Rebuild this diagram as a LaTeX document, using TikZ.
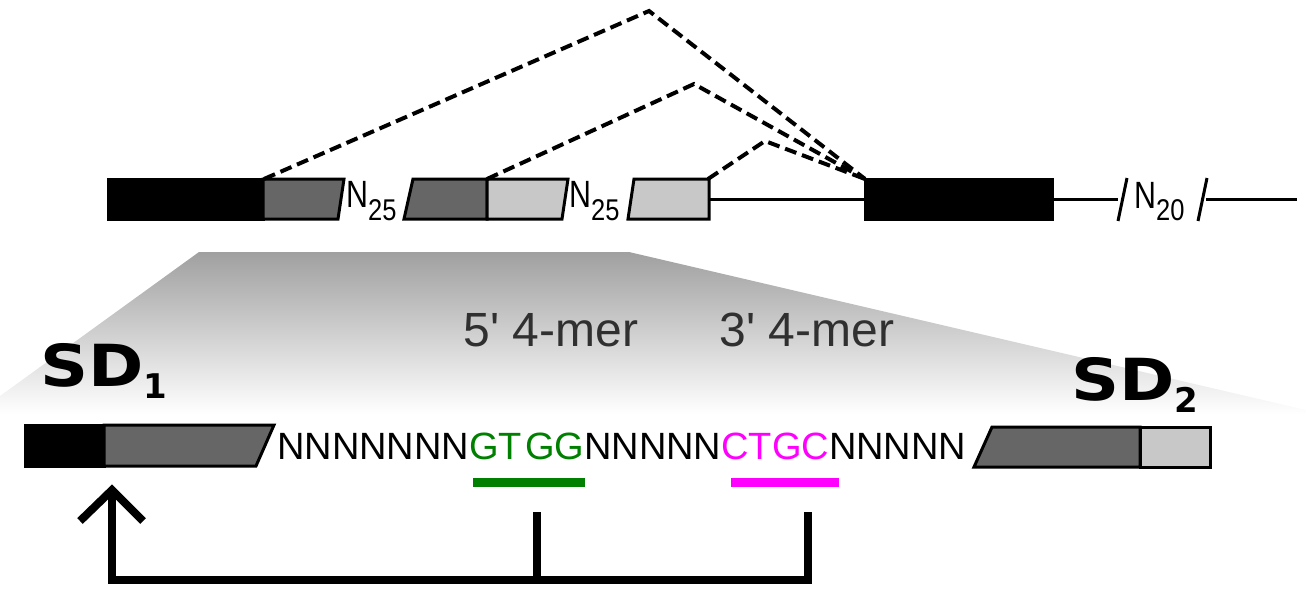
\documentclass[tikz,border=0pt]{standalone}
\usepackage{fontspec}
\setmainfont{Liberation Sans}
\newfontfamily\sdfont{DejaVu Sans}
\usetikzlibrary{arrows.meta}
\definecolor{dgray}{HTML}{666666}
\definecolor{lgray}{HTML}{C8C8C8}
\definecolor{seqgreen}{HTML}{008000}
\definecolor{seqmag}{HTML}{FF00FF}
\definecolor{labgray}{HTML}{303030}
\definecolor{shadetop}{HTML}{A0A0A0}
\begin{document}
\begin{tikzpicture}[x=1pt,y=-1pt,
  box/.style={draw=black,line width=3pt,line join=miter},
  exon/.style={box,fill=black},
  darkbox/.style={box,fill=dgray},
  lightbox/.style={box,fill=lgray},
  intron/.style={line width=3pt},
  slashline/.style={line width=3pt},
  splice/.style={line width=4pt,dash pattern=on 12pt off 6pt},
  bracket/.style={line width=8pt},
  uline/.style={line width=9pt},
  toptext/.style={anchor=base west,inner sep=0pt,font=\fontsize{38}{38}\selectfont},
  seqtext/.style={anchor=base west,inner sep=0pt,font=\fontsize{38}{38}\selectfont},
  merlabel/.style={anchor=base,inner sep=0pt,text=labgray,font=\fontsize{48}{48}\selectfont},
  sdlabel/.style={anchor=base west,inner sep=0pt,font=\sdfont\bfseries\fontsize{58}{58}\selectfont}
]
\useasboundingbox (0,0) rectangle (1306,589);
% zoom shading
\shade[top color=shadetop,bottom color=white] (199,252) -- (629,252) -- (1306,410) -- (1306,414) -- (0,414) -- (0,396) -- cycle;

% ---------- top row ----------
\coordinate (i1a) at (709,199); \coordinate (i1b) at (865,199);
\coordinate (i2a) at (1052,199); \coordinate (i2b) at (1118,199);
\coordinate (i3a) at (1206,199); \coordinate (i3b) at (1297,199);
\draw[intron] (i1a) -- (i1b);
\draw[intron] (i2a) -- (i2b);
\draw[intron] (i3a) -- (i3b);
\draw[exon] (108,179) rectangle (263,219);
\draw[darkbox] (263,179) -- (344,179) -- (338,219) -- (263,219) -- cycle;
\node[toptext] (n25a) at (346,207) {\scalebox{0.8}[1]{N}\raisebox{-13pt}{\fontsize{30}{30}\selectfont\scalebox{0.85}[1]{25}}};
\draw[darkbox] (404,219) -- (413,179) -- (487,179) -- (487,219) -- cycle;
\draw[lightbox] (487,179) -- (568,179) -- (562,219) -- (487,219) -- cycle;
\node[toptext] (n25b) at (569,207) {\scalebox{0.8}[1]{N}\raisebox{-13pt}{\fontsize{30}{30}\selectfont\scalebox{0.85}[1]{25}}};
\draw[lightbox] (628,219) -- (634,179) -- (709,179) -- (709,219) -- cycle;
\draw[exon] (865,179) rectangle (1052,219);
\draw[slashline] (1118,221) -- (1127,178);
\node[toptext] (n20) at (1134,208) {\scalebox{0.8}[1]{N}\raisebox{-12pt}{\fontsize{30}{30}\selectfont\scalebox{0.85}[1]{20}}};
\draw[slashline] (1198,221) -- (1207,178);

% splicing events
\coordinate (d1) at (264,179); \coordinate (p1) at (649,11);
\coordinate (d2) at (487,179); \coordinate (p2) at (694,84);
\coordinate (d3) at (708,179); \coordinate (p3) at (765,141);
\coordinate (acc) at (865,179);
\draw[splice] (d1) -- (p1) -- (acc);
\draw[splice] (d2) -- (p2) -- (acc);
\draw[splice] (d3) -- (p3) -- (acc);

% ---------- labels ----------
\node[merlabel] (m5) at (551,346) {5\textquotesingle{} 4-mer};
\node[merlabel] (m3) at (807,346) {3\textquotesingle{} 4-mer};
\node[sdlabel] (sd1) at (40,386) {\scalebox{1.15}[1]{SD}\raisebox{-12pt}{\fontsize{34}{34}\selectfont 1}};
\node[sdlabel] (sd2) at (1071,400) {\scalebox{1.15}[1]{SD}\raisebox{-12pt}{\fontsize{34}{34}\selectfont 2}};

% ---------- bottom row ----------
\draw[exon] (25,425) rectangle (104,466);
\draw[darkbox] (104,425) -- (274,425) -- (256,466) -- (104,466) -- cycle;
\node[seqtext] (seq) at (277,459) {NNNNNNN\textcolor{seqgreen}{GT\hspace{3pt}GG}NNNNN\textcolor{seqmag}{CTGC}NNNNN};
\draw[darkbox] (974,467) -- (992,427) -- (1140,427) -- (1140,467) -- cycle;
\draw[lightbox] (1140,427) rectangle (1210,467);

\coordinate (g1) at (473,482); \coordinate (g2) at (585,482);
\coordinate (c1) at (731,482); \coordinate (c2) at (839,482);
\draw[uline,seqgreen] (g1) -- (g2);
\draw[uline,seqmag] (c1) -- (c2);

% ---------- feedback bracket ----------
\coordinate (s5) at (537,512); \coordinate (s5b) at (537,580);
\coordinate (s3) at (808,512); \coordinate (s3b) at (808,580);
\coordinate (corner) at (112,580); \coordinate (tip) at (112,490);
\coordinate (armL) at (80,521); \coordinate (armR) at (143,521);
\draw[bracket] (s5) -- (s5b);
\draw[bracket] (s3) -- (s3b) -- (corner) -- (tip);
\draw[bracket] (armL) -- (tip) -- (armR);
\end{tikzpicture}
\end{document}
